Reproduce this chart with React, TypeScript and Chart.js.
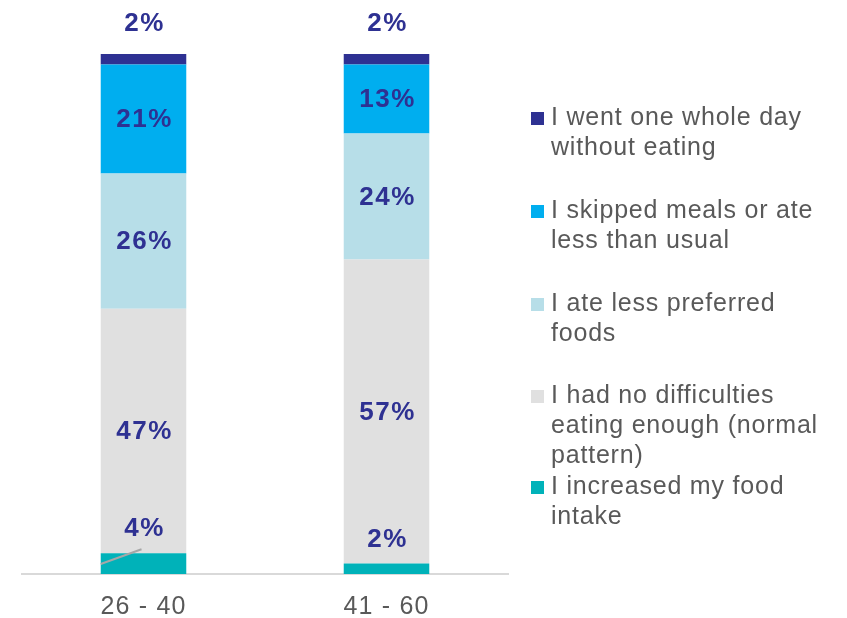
import React, { useEffect, useRef } from "react";
import { Chart, registerables } from "chart.js";

Chart.register(...registerables);

const categories = ["26 - 40", "41 - 60"];

// bottom to top
const increasedIntake = [4, 2];
const noDifficulties = [47, 58.5];
const lessPreferred = [26, 24.2];
const skippedMeals = [21, 13.3];
const wholeDay = [2, 2];

const increasedLabels = ["4%", "2%"];
const noDifficultiesLabels = ["47%", "57%"];
const lessPreferredLabels = ["26%", "24%"];
const skippedLabels = ["21%", "13%"];
const wholeDayLabels = ["2%", "2%"];

const leaderLine = [true, false];

const legendItems = [
  { color: "#2E3192", lines: ["I went one whole day", "without eating"] },
  { color: "#00AEEF", lines: ["I skipped meals or ate", "less than usual"] },
  { color: "#B7DEE8", lines: ["I ate less preferred", "foods"] },
  { color: "#E0E0E0", lines: ["I had no difficulties", "eating enough (normal", "pattern)"] },
  { color: "#00B2B9", lines: ["I increased my food", "intake"] },
];

const FONT = "'Liberation Sans', Arial, sans-serif";
const LABEL_COLOR = "#2E3192";
const TEXT_COLOR = "#595959";

const overlayPlugin = {
  id: "overlay",
  afterDraw(chart: any) {
    const ctx = chart.ctx as CanvasRenderingContext2D;
    const allLabels = [increasedLabels, noDifficultiesLabels, lessPreferredLabels, skippedLabels, wholeDayLabels];
    const n = chart.data.datasets.length;
    ctx.save();
    // leader line
    const m0 = chart.getDatasetMeta(0);
    m0.data.forEach((bar: any, i: number) => {
      if (!leaderLine[i]) return;
      ctx.strokeStyle = "#A6A6A6";
      ctx.lineWidth = 2;
      ctx.beginPath();
      ctx.moveTo(bar.x - bar.width / 2, bar.base - 10);
      ctx.lineTo(bar.x - 2, bar.y - 4);
      ctx.stroke();
    });
    // data labels
    ctx.fillStyle = LABEL_COLOR;
    ctx.font = `bold 26px ${FONT}`;
    (ctx as any).letterSpacing = "1.5px";
    ctx.textAlign = "center";
    ctx.textBaseline = "middle";
    for (let d = 0; d < n; d++) {
      const meta = chart.getDatasetMeta(d);
      meta.data.forEach((bar: any, i: number) => {
        let y;
        if (d === n - 1) y = bar.y - 31;
        else if (d === 0) y = bar.y - 25;
        else y = (bar.y + bar.base) / 2;
        ctx.fillText(allLabels[d][i], bar.x + 1, y + 1);
      });
    }
    // x tick labels
    const xs = chart.scales.x;
    ctx.fillStyle = TEXT_COLOR;
    ctx.font = `25px ${FONT}`;
    (ctx as any).letterSpacing = "1.2px";
    categories.forEach((c, i) => {
      ctx.fillText(c, xs.getPixelForValue(i), 607);
    });
    // legend
    ctx.textAlign = "left";
    ctx.textBaseline = "alphabetic";
    (ctx as any).letterSpacing = "0.8px";
    const baselines = [125, 218, 311, 403, 494];
    legendItems.forEach((item, k) => {
      const b = baselines[k];
      ctx.fillStyle = item.color;
      ctx.fillRect(531, b - 13, 13, 13);
      ctx.fillStyle = TEXT_COLOR;
      item.lines.forEach((ln, j) => {
        ctx.fillText(ln, 551, b + j * 30);
      });
    });
    ctx.restore();
  },
};

export default function App() {
  const ref = useRef<HTMLCanvasElement>(null);
  useEffect(() => {
    if (!ref.current) return;
    const chart = new Chart(ref.current, {
      type: "bar",
      data: {
        labels: categories,
        datasets: [
          { label: legendItems[4].lines.join(" "), data: increasedIntake, backgroundColor: legendItems[4].color },
          { label: legendItems[3].lines.join(" "), data: noDifficulties, backgroundColor: legendItems[3].color },
          { label: legendItems[2].lines.join(" "), data: lessPreferred, backgroundColor: legendItems[2].color },
          { label: legendItems[1].lines.join(" "), data: skippedMeals, backgroundColor: legendItems[1].color },
          { label: legendItems[0].lines.join(" "), data: wholeDay, backgroundColor: legendItems[0].color },
        ],
      },
      options: {
        responsive: false,
        animation: false,
        devicePixelRatio: 1,
        layout: { padding: { top: 54, left: 22, right: 339, bottom: 0 } },
        datasets: { bar: { categoryPercentage: 1, barPercentage: 0.352 } },
        scales: {
          x: {
            stacked: true,
            grid: { display: false },
            border: { display: true, color: "#D9D9D9", width: 2 },
            ticks: { display: false },
            afterFit: (s: any) => {
              s.height = 44;
            },
          },
          y: { stacked: true, display: false, min: 0, max: 100 },
        },
        plugins: { legend: { display: false }, tooltip: { enabled: false } },
      } as any,
      plugins: [overlayPlugin],
    });
    return () => chart.destroy();
  }, []);
  return (
    <div style={{ position: "absolute", left: 0, top: 0, width: 847, height: 618, background: "#fff" }}>
      <canvas ref={ref} width={847} height={618} />
    </div>
  );
}
